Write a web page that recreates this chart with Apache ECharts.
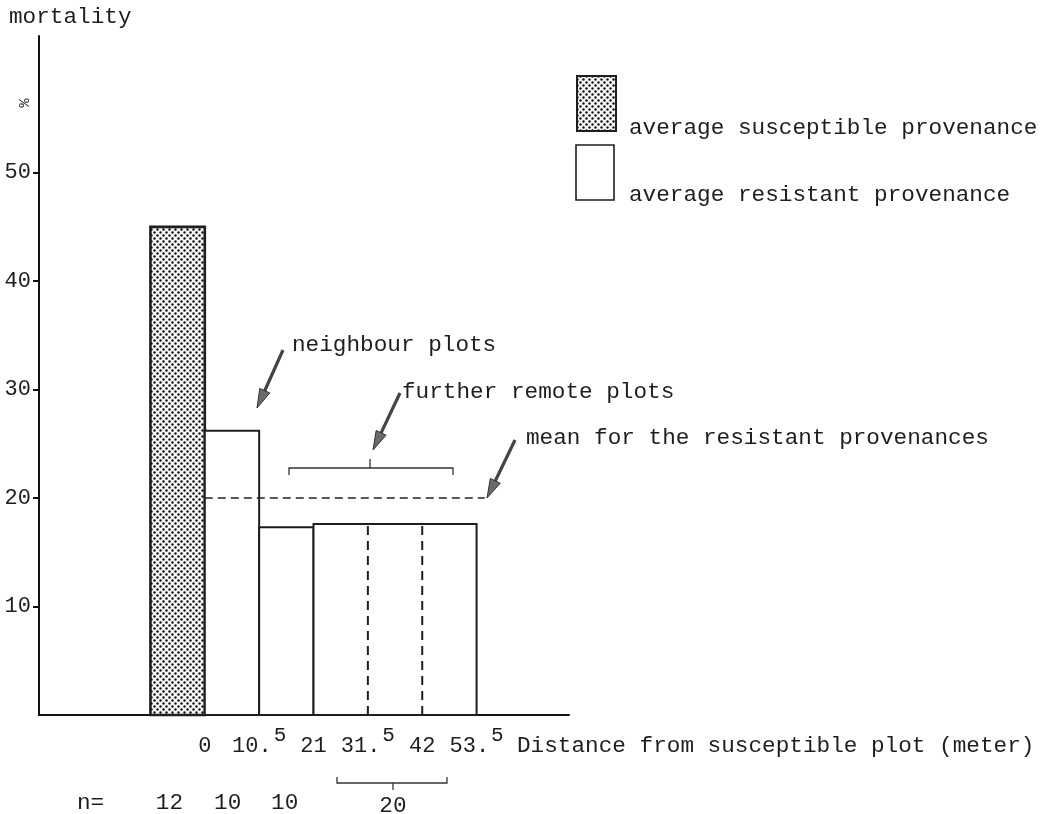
<!DOCTYPE html>
<html><head><meta charset="utf-8">
<script src="https://cdn.jsdelivr.net/npm/echarts@6/dist/echarts.min.js"></script>
<style>html,body{margin:0;padding:0;background:#fff}#c{width:1046px;height:814px}</style>
</head><body><div id="c"></div>
<script>
// ---- data ----
const distanceLabels = ['0', '10.5', '21', '31.5', '42', '53.5'];   // bin edge labels (x ticks at bin index 0..5)
const susceptibleSpans = [[-1, 0]];
const susceptibleValues = [45];
const resistantSpans = [[0, 1], [1, 2], [2, 5]];
const resistantValues = [26.2, 17.3, 17.6];
const groupDividers = [3, 4];
const resistantMean = 20;
const meanSpan = [0, 5.15];
const yTickValues = [10, 20, 30, 40, 50];
const sampleSizes = ['12', '10', '10', '20'];
const sampleSizeAt = [-0.65, 0.42, 1.47, 3.46];

// ---- styles ----
const FONT = '"Liberation Mono", "DejaVu Sans Mono", monospace';
const INK = '#1e1e1e';

function makeStipple() {
  const c = document.createElement('canvas');
  c.width = 6; c.height = 6;
  const g = c.getContext('2d');
  g.fillStyle = '#f6f6f6'; g.fillRect(0, 0, 6, 6);
  g.fillStyle = '#111';
  [[1.5, 1.5], [4.5, 4.5]].forEach(([x, y]) => { g.beginPath(); g.arc(x, y, 1.2, 0, Math.PI * 2); g.fill(); });
  return c;
}
const stipple = { image: makeStipple(), repeat: 'repeat' };

function barRender(fill, lw) {
  return function (params, api) {
    const x0 = api.value(0), x1 = api.value(1), v = api.value(2);
    const tl = api.coord([x0, v]), br = api.coord([x1, 0]);
    return { type: 'rect', shape: { x: tl[0], y: tl[1], width: br[0] - tl[0], height: br[1] - tl[1] },
      style: { fill: fill, stroke: INK, lineWidth: lw } };
  };
}

const chart = echarts.init(document.getElementById('c'), null, { renderer: 'canvas' });

function txt(text, x, y, size, align, extra) {
  return Object.assign({ type: 'text', x: x, y: y, style: { text: text, font: size + 'px ' + FONT, fill: INK,
    align: align || 'left', verticalAlign: 'middle', textAlign: align || 'left', textVerticalAlign: 'middle' } }, extra || {});
}
function arrow(tail, head) {
  const dx = head[0] - tail[0], dy = head[1] - tail[1];
  const L = Math.hypot(dx, dy), ux = dx / L, uy = dy / L, px = -uy, py = ux;
  const hl = 19, hw = 5.5;
  const bx = head[0] - ux * hl, by = head[1] - uy * hl;
  return [
    { type: 'line', shape: { x1: tail[0], y1: tail[1], x2: bx + ux * 2, y2: by + uy * 2 }, style: { stroke: '#444', lineWidth: 3.2 } },
    { type: 'polygon', shape: { points: [head, [bx + px * hw, by + py * hw], [bx - px * hw, by - py * hw]] },
      style: { fill: '#6a6a6a', stroke: '#333', lineWidth: 1 } }
  ];
}

const graphics = [
  txt('mortality', 9, 17, 22.7),
  txt('%', 25, 103, 15, 'center', { rotation: Math.PI / 2 }),
  // legend
  { type: 'rect', shape: { x: 577, y: 76, width: 39, height: 55 }, style: { fill: stipple, stroke: INK, lineWidth: 2 } },
  txt('average susceptible provenance', 629, 128, 22.7),
  { type: 'rect', shape: { x: 576, y: 145, width: 38, height: 55 }, style: { fill: '#fff', stroke: INK, lineWidth: 1.6 } },
  txt('average resistant provenance', 629, 195, 22.7),
  // annotations
  txt('neighbour plots', 292, 345, 22.7),
  txt('further remote plots', 402, 392, 22.7),
  txt('mean for the resistant provenances', 526, 438, 22.7),
  ...arrow([283, 350], [257, 408]),
  ...arrow([400, 393], [373, 450]),
  ...arrow([515, 440], [487, 498]),
  { type: 'polyline', shape: { points: [[289, 475], [289, 468], [453, 468], [453, 475]] }, style: { stroke: '#333', lineWidth: 1.3, fill: null } },
  { type: 'line', shape: { x1: 370, y1: 468, x2: 370, y2: 459 }, style: { stroke: '#333', lineWidth: 1.3 } },
  // x axis title
  txt('Distance from susceptible plot (meter)', 517, 746, 22.7),
  // sample sizes
  txt('n=', 77, 803, 22.7),
  { type: 'polyline', shape: { points: [[337, 777], [337, 783], [447, 783], [447, 777]] }, style: { stroke: '#333', lineWidth: 1.3, fill: null } },
  { type: 'line', shape: { x1: 393, y1: 783, x2: 393, y2: 790 }, style: { stroke: '#333', lineWidth: 1.3 } }
];

const option = {
  animation: false,
  backgroundColor: '#fff',
  grid: { left: 39, right: 477, top: 36, bottom: 99, containLabel: false, outerBoundsMode: 'none' },
  xAxis: {
    type: 'value', min: -3.05, max: 6.7,
    axisLine: { show: true, onZero: false, lineStyle: { color: '#111', width: 2 } },
    axisTick: { show: false },
    splitLine: { show: false },
    axisLabel: {
      customValues: distanceLabels.map((_, i) => i),
      margin: 10,
      formatter: function (v) {
        const s = distanceLabels[Math.round(v)];
        if (s === undefined) return '';
        const k = s.indexOf('.');
        if (k < 0) return '{a|' + s + '}';
        return '{a|' + s.slice(0, k + 1) + '}{s|' + s.slice(k + 1) + '}';
      },
      rich: {
        a: { fontFamily: FONT, fontSize: 22, color: INK, lineHeight: 22, padding: [20, 0, 0, 0] },
        s: { fontFamily: FONT, fontSize: 21, color: INK, lineHeight: 22, verticalAlign: 'top', padding: [0, 0, 0, 2] }
      }
    }
  },
  yAxis: {
    type: 'value', min: 0, max: 62.6,
    axisLine: { show: true, onZero: false, lineStyle: { color: '#111', width: 2 } },
    axisTick: { show: true, customValues: yTickValues, length: 6, lineStyle: { color: '#111', width: 2 } },
    axisLabel: { customValues: yTickValues, fontFamily: FONT, fontSize: 22, color: INK, margin: 8 },
    splitLine: { show: false }
  },
  series: [
    { type: 'custom', name: 'average susceptible provenance', renderItem: barRender(stipple, 2.6),
      encode: { x: [0, 1], y: 2 },
      data: susceptibleSpans.map((s, i) => [s[0], s[1], susceptibleValues[i]]) },
    { type: 'custom', name: 'average resistant provenance', renderItem: barRender('#fff', 2),
      encode: { x: [0, 1], y: 2 },
      data: resistantSpans.map((s, i) => [s[0], s[1], resistantValues[i]]) },
    { type: 'custom', name: 'dividers',
      renderItem: function (params, api) {
        const a = api.coord([api.value(0), api.value(1)]), b = api.coord([api.value(0), 0]);
        return { type: 'line', shape: { x1: a[0], y1: a[1] + 2, x2: b[0], y2: b[1] }, style: { stroke: INK, lineWidth: 2, lineDash: [9, 6] } };
      },
      encode: { x: 0, y: 1 },
      data: groupDividers.map(x => [x, resistantValues[2]]) },
    { type: 'line', name: 'mean', symbol: 'none', silent: true,
      lineStyle: { color: '#222', width: 1.5, type: [8, 5] },
      data: [[meanSpan[0], resistantMean], [meanSpan[1], resistantMean]] }
  ],
  graphic: graphics
};
chart.setOption(option);

// sample size labels placed at bar centres via the x scale
const nGraphics = sampleSizes.map((t, i) => {
  const p = chart.convertToPixel({ gridIndex: 0 }, [sampleSizeAt[i], 0]);
  return txt(t, p[0], i === 3 ? 806 : 803, 22.7, 'center');
});
chart.setOption({ graphic: graphics.concat(nGraphics) }, { replaceMerge: ['graphic'] });
</script>
</body></html>
